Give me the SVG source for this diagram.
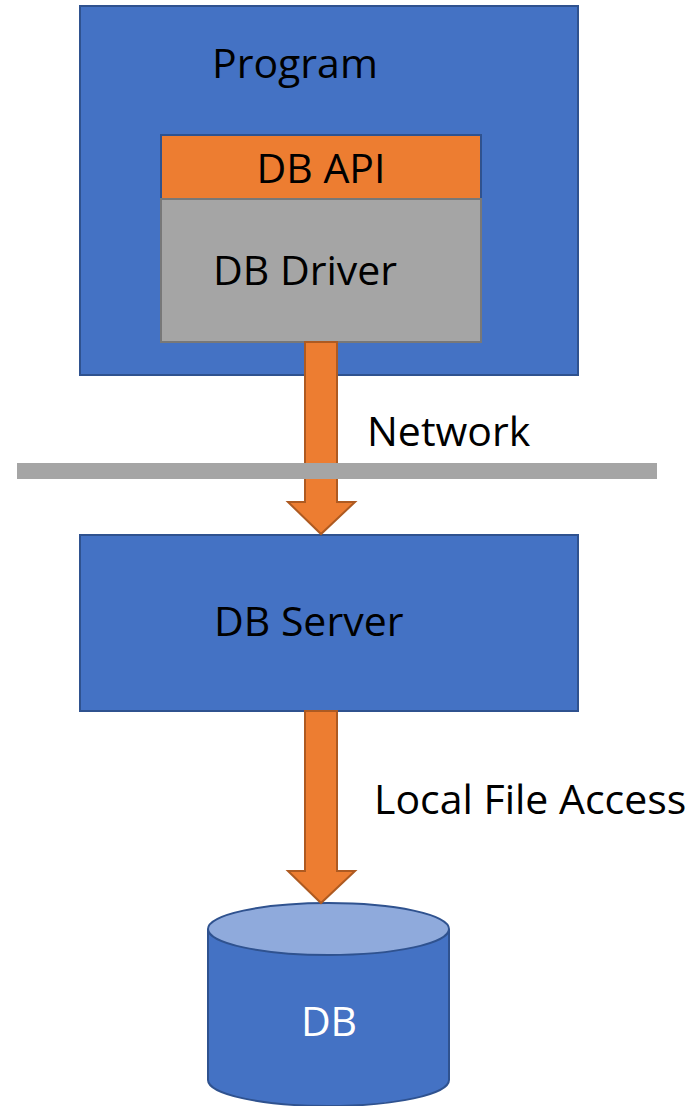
<svg xmlns="http://www.w3.org/2000/svg" width="700" height="1106" viewBox="0 0 700 1106">
<style>
.blue{fill:#4472C4;stroke:#2F528F;stroke-width:2}
.orange{fill:#ED7D31;stroke:#AE5A21;stroke-width:2}
.gray{fill:#A5A5A5;stroke:#787878;stroke-width:2}
.lbl{font-family:"Open Sans","Liberation Sans",sans-serif;font-size:41px;fill:#000}
</style>
<rect width="700" height="1106" fill="#fff"/>
<g id="program">
<rect class="blue" x="80" y="6" width="498" height="369"/>
<text class="lbl" x="212" y="78">Program</text>
</g>
<g id="db-api">
<rect class="orange" x="161" y="135" width="320" height="64" style="stroke:#2F528F"/>
<text class="lbl" x="321" y="183" text-anchor="middle">DB API</text>
</g>
<g id="db-driver">
<rect class="gray" x="161" y="199" width="320" height="143"/>
<text class="lbl" x="213" y="285">DB Driver</text>
</g>
<g id="db-server">
<rect class="blue" x="80" y="535" width="498" height="176"/>
<text class="lbl" x="214" y="636">DB Server</text>
</g>
<g id="db">
<path class="blue" d="M208,929 L208,1080 A120.5,26 0 0 0 449,1080 L449,929"/>
<ellipse cx="328.5" cy="929" rx="120.5" ry="26" fill="#8FAADC" stroke="#2F528F" stroke-width="2"/>
<text class="lbl" x="329" y="1036" text-anchor="middle" style="fill:#fff">DB</text>
</g>
<g id="connectors">
<path class="orange" d="M305,342 L337,342 L337,502 L355,502 L321,534 L288,502 L305,502 Z"/>
<path class="orange" d="M305,711 L337,711 L337,871 L355,871 L321,903 L288,871 L305,871 Z"/>
</g>
<g id="network-line">
<rect x="17" y="463" width="640" height="16" fill="#A5A5A5"/>
</g>
<text class="lbl" x="367" y="446">Network</text>
<text class="lbl" x="374" y="814">Local File Access</text>
</svg>
